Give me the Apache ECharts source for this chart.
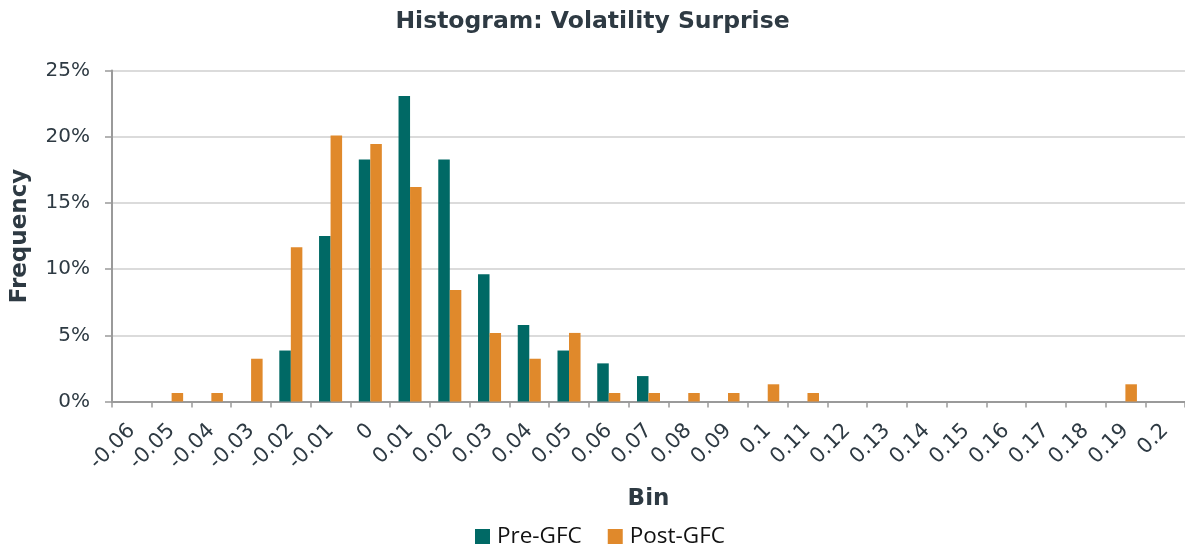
<!DOCTYPE html>
<html>
<head>
<meta charset="utf-8">
<script src="https://cdn.jsdelivr.net/npm/echarts@6/dist/echarts.min.js"></script>
<style>
  html, body { margin: 0; padding: 0; background: #fff; }
  #chart { width: 1185px; height: 548px; }
</style>
</head>
<body>
<div id="chart"></div>
<script>
// bins (category labels on the x axis)
const bins = ['-0.06', '-0.05', '-0.04', '-0.03', '-0.02', '-0.01', '0', '0.01', '0.02', '0.03',
  '0.04', '0.05', '0.06', '0.07', '0.08', '0.09', '0.1', '0.11', '0.12', '0.13',
  '0.14', '0.15', '0.16', '0.17', '0.18', '0.19', '0.2']

// frequency in %
const preGFC = [0, 0, 0, 0, 3.85, 12.5, 18.27, 23.08, 18.27, 9.62,
  5.77, 3.85, 2.88, 1.92, 0, 0, 0, 0, 0, 0,
  0, 0, 0, 0, 0, 0, 0]
const postGFC = [0, 0.64, 0.64, 3.23, 11.65, 20.1, 19.45, 16.2, 8.42, 5.18,
  3.23, 5.18, 0.64, 0.64, 0.64, 0.64, 1.3, 0.64, 0, 0,
  0, 0, 0, 0, 0, 1.3, 0]

const yTicks = { min: 0, max: 25, step: 5 }

const textColor = '#2e3a43'
const chart = echarts.init(document.getElementById('chart'), null, { renderer: 'canvas' })

chart.setOption({
  animation: false,
  title: {
    text: 'Histogram: Volatility Surprise',
    left: 'center',
    top: 5,
    textStyle: { fontFamily: 'DejaVu Sans', fontWeight: 'bold', fontSize: 23.5, color: textColor }
  },
  legend: {
    left: 470,
    top: 525,
    padding: [0, 5],
    itemWidth: 15,
    itemHeight: 15,
    itemGap: 26,
    icon: 'rect',
    textStyle: { fontFamily: 'Open Sans', fontSize: 22.5, color: '#111', padding: [0, 0, 0, 2] },
    data: ['Pre-GFC', 'Post-GFC']
  },
  grid: { left: 112, top: 70.5, width: 1080, height: 331 },
  xAxis: {
    type: 'category',
    data: bins,
    name: 'Bin',
    nameLocation: 'middle',
    nameGap: 86,
    nameMoveOverlap: false,
    nameTextStyle: { fontFamily: 'DejaVu Sans', fontWeight: 'bold', fontSize: 23, color: textColor },
    axisLine: { lineStyle: { color: '#9a9a9a', width: 2 } },
    axisTick: { show: true, length: 6, lineStyle: { color: '#9a9a9a', width: 1.5 } },
    axisLabel: {
      interval: 0,
      rotate: 45,
      margin: 26,
      fontFamily: 'DejaVu Sans',
      fontSize: 21,
      color: textColor
    }
  },
  yAxis: {
    type: 'value',
    min: yTicks.min,
    max: yTicks.max,
    interval: yTicks.step,
    name: 'Frequency',
    nameLocation: 'middle',
    nameGap: 80,
    nameTextStyle: { fontFamily: 'DejaVu Sans', fontWeight: 'bold', fontSize: 23, color: textColor },
    axisLine: { show: true, lineStyle: { color: '#9a9a9a', width: 2 } },
    axisTick: { show: true, length: 7, lineStyle: { color: '#9a9a9a', width: 1.5 } },
    splitLine: { lineStyle: { color: '#cfcfcf', width: 1.5 } },
    axisLabel: {
      formatter: '{value}%',
      margin: 22,
      fontFamily: 'DejaVu Sans',
      fontSize: 20,
      color: textColor
    }
  },
  series: [
    {
      name: 'Pre-GFC',
      type: 'bar',
      data: preGFC,
      barGap: '0%',
      barCategoryGap: '42%',
      itemStyle: { color: '#006965' }
    },
    {
      name: 'Post-GFC',
      type: 'bar',
      data: postGFC,
      itemStyle: { color: '#e0892b' }
    }
  ]
})
</script>
</body>
</html>
